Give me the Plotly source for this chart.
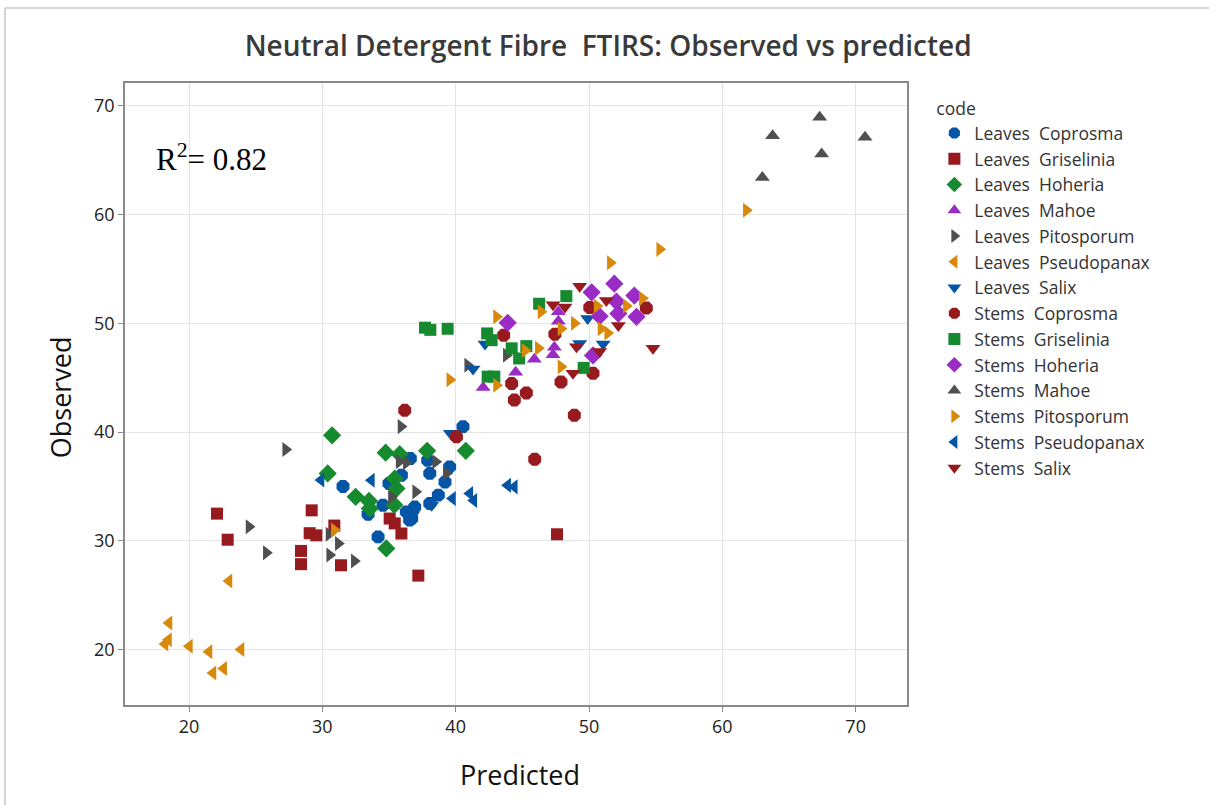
import plotly.graph_objects as go

# ---- data (Predicted, Observed) ----
leaves_coprosma_x = [31.55, 34.18, 33.43, 34.55, 35.0, 35.93, 36.6, 37.9, 38.06, 39.55, 39.2, 38.7, 36.3, 36.93, 36.55, 38.06, 40.55, 36.8, 36.7]
leaves_coprosma_y = [35.0, 30.36, 32.45, 33.27, 35.27, 36.03, 37.57, 37.4, 36.2, 36.8, 35.4, 34.2, 32.66, 33.1, 31.9, 33.43, 40.5, 32.8, 32.05]

leaves_griselinia_x = [22.1, 22.9, 28.4, 28.4, 29.2, 29.05, 29.55, 30.9, 31.4, 35.05, 35.43, 35.93, 37.2, 47.6]
leaves_griselinia_y = [32.5, 30.1, 29.07, 27.85, 32.8, 30.7, 30.5, 31.4, 27.75, 32.05, 31.6, 30.67, 26.8, 30.6]

leaves_hoheria_x = [30.73, 30.4, 34.75, 35.8, 37.86, 40.76, 35.43, 35.56, 32.5, 33.5, 33.56, 35.4, 34.8]
leaves_hoheria_y = [39.7, 36.2, 38.1, 37.97, 38.27, 38.27, 35.73, 34.8, 34.04, 33.67, 32.97, 33.3, 29.3]

leaves_mahoe_x = [47.7, 47.7, 47.4, 47.3, 45.9, 44.5, 42.06]
leaves_mahoe_y = [51.06, 50.2, 47.8, 47.1, 46.7, 45.5, 44.1]

leaves_pitosporum_x = [27.25, 24.5, 25.8, 30.55, 30.5, 31.2, 32.4, 35.76, 36.3, 38.5, 37.0, 35.18, 35.9, 40.9, 43.8, 39.3]
leaves_pitosporum_y = [38.4, 31.3, 28.9, 28.7, 30.6, 29.75, 28.15, 37.26, 37.17, 37.26, 34.5, 34.04, 40.5, 46.15, 47.07, 36.2]

leaves_pseudopanax_x = [23.0, 18.5, 18.46, 18.2, 20.03, 21.5, 23.9, 21.8, 22.6]
leaves_pseudopanax_y = [26.3, 22.45, 20.9, 20.5, 20.3, 19.8, 20.0, 17.85, 18.25]

leaves_salix_x = [42.2, 49.9, 49.3, 51.06, 41.3, 38.2, 39.6]
leaves_salix_y = [48.1, 50.45, 48.15, 48.1, 45.8, 33.27, 39.9]

stems_coprosma_x = [36.18, 40.06, 43.6, 47.44, 50.06, 54.3, 50.3, 47.9, 44.2, 44.4, 45.3, 48.9, 45.93]
stems_coprosma_y = [42.0, 39.56, 48.9, 49.0, 51.45, 51.4, 45.4, 44.6, 44.47, 42.95, 43.6, 41.55, 37.5]

stems_griselinia_x = [48.3, 46.26, 37.7, 38.1, 39.4, 42.36, 42.7, 44.2, 45.3, 44.76, 49.6, 42.4, 42.9]
stems_griselinia_y = [52.5, 51.8, 49.6, 49.4, 49.5, 49.07, 48.45, 47.7, 47.9, 46.77, 45.9, 45.1, 45.1]

stems_hoheria_x = [51.9, 50.2, 53.4, 52.06, 50.8, 53.56, 52.2, 50.3, 43.9]
stems_hoheria_y = [53.65, 52.85, 52.55, 52.0, 50.65, 50.6, 50.9, 47.05, 50.05]

stems_mahoe_x = [67.3, 63.77, 70.7, 67.45, 63.0]
stems_mahoe_y = [68.94, 67.25, 67.1, 65.57, 63.4]

stems_pitosporum_x = [55.3, 51.6, 61.8, 52.8, 54.0, 50.9, 51.4, 48.9, 50.6, 46.4, 43.06, 46.2, 45.2, 47.9, 47.9, 43.06, 39.56, 30.9]
stems_pitosporum_y = [56.8, 55.57, 60.4, 51.6, 52.3, 49.5, 49.1, 50.0, 51.6, 51.06, 50.6, 47.7, 47.5, 46.0, 49.5, 44.3, 44.8, 31.0]

stems_pseudopanax_x = [29.9, 33.68, 39.76, 41.06, 41.36, 43.9, 44.4]
stems_pseudopanax_y = [35.6, 35.57, 33.9, 34.35, 33.7, 35.1, 34.96]

stems_salix_x = [49.3, 54.8, 51.3, 52.2, 49.06, 50.8, 48.8, 47.3, 48.2]
stems_salix_y = [53.4, 47.7, 52.1, 49.8, 47.84, 47.4, 45.4, 51.7, 51.5]

x_ticks = [20, 30, 40, 50, 60, 70]
y_ticks = [20, 30, 40, 50, 60, 70]

# ---- styles ----
BLUE = "#0455A6"
RED = "#971A1E"
GREEN = "#168A2E"
PURPLE = "#9A2BC4"
GRAY = "#4F4F4F"
ORANGE = "#D8890A"

series = [
    ("Leaves  Coprosma", leaves_coprosma_x, leaves_coprosma_y, BLUE, "octagon", 14),
    ("Leaves  Griselinia", leaves_griselinia_x, leaves_griselinia_y, RED, "square", 12),
    ("Leaves  Hoheria", leaves_hoheria_x, leaves_hoheria_y, GREEN, "diamond", 14),
    ("Leaves  Mahoe", leaves_mahoe_x, leaves_mahoe_y, PURPLE, "triangle-up", 13),
    ("Leaves  Pitosporum", leaves_pitosporum_x, leaves_pitosporum_y, GRAY, "triangle-right", 13),
    ("Leaves  Pseudopanax", leaves_pseudopanax_x, leaves_pseudopanax_y, ORANGE, "triangle-left", 13),
    ("Leaves  Salix", leaves_salix_x, leaves_salix_y, BLUE, "triangle-down", 13),
    ("Stems  Coprosma", stems_coprosma_x, stems_coprosma_y, RED, "octagon", 14),
    ("Stems  Griselinia", stems_griselinia_x, stems_griselinia_y, GREEN, "square", 12),
    ("Stems  Hoheria", stems_hoheria_x, stems_hoheria_y, PURPLE, "diamond", 14),
    ("Stems  Mahoe", stems_mahoe_x, stems_mahoe_y, GRAY, "triangle-up", 13),
    ("Stems  Pitosporum", stems_pitosporum_x, stems_pitosporum_y, ORANGE, "triangle-right", 13),
    ("Stems  Pseudopanax", stems_pseudopanax_x, stems_pseudopanax_y, BLUE, "triangle-left", 13),
    ("Stems  Salix", stems_salix_x, stems_salix_y, RED, "triangle-down", 13),
]

fig = go.Figure()
for name, xs, ys, color, sym, size in series:
    fig.add_trace(go.Scatter(
        x=xs, y=ys, mode="markers", name=name,
        marker=dict(color=color, symbol=sym, size=size, line=dict(width=0)),
    ))

FONT = "Open Sans"
axis_common = dict(
    showgrid=True, gridcolor="#e4e4e4", gridwidth=1,
    showline=True, linecolor="#8a8a8a", linewidth=1.5, mirror=True,
    ticks="outside", ticklen=5, tickcolor="#8a8a8a",
    tickfont=dict(family=FONT, size=18, color="#222222"),
    zeroline=False,
)

fig.update_layout(
    width=1209, height=805,
    paper_bgcolor="white", plot_bgcolor="white",
    margin=dict(l=125, r=302, t=83, b=100),
    title=dict(
        text="Neutral Detergent Fibre  FTIRS: Observed vs predicted",
        x=0.503, xanchor="center", y=0.942, yanchor="middle",
        font=dict(family=FONT, size=28, color="#3a3a3a", weight=600),
    ),
    xaxis=dict(range=[15.2, 73.85], tickvals=x_ticks, **axis_common),
    yaxis=dict(range=[14.9, 72.1], tickvals=y_ticks, **axis_common),
    legend=dict(
        title=dict(text="code", font=dict(family=FONT, size=17.5, color="#333333")),
        font=dict(family=FONT, size=17.5, color="#333333"),
        x=1.035, xanchor="left", y=0.985, yanchor="top",
        tracegroupgap=0, itemsizing="constant",
        bgcolor="rgba(0,0,0,0)",
    ),
    showlegend=True,
)

# axis titles and R² label
fig.add_annotation(text="Predicted", xref="paper", yref="paper", x=0.505, y=-0.1125,
                   xanchor="center", yanchor="middle", showarrow=False,
                   font=dict(family=FONT, size=27, color="#111111"))
fig.add_annotation(text="Observed", xref="paper", yref="paper", x=-0.083, y=0.495,
                   xanchor="center", yanchor="middle", showarrow=False, textangle=-90,
                   font=dict(family=FONT, size=27, color="#111111"))
fig.add_annotation(text="R<sup>2</sup>= 0.82", xref="paper", yref="paper", x=0.037, y=0.88,
                   xanchor="left", yanchor="middle", showarrow=False,
                   font=dict(family="Liberation Serif", size=31, color="#000000"))

# outer window border (top and left edges)
fig.add_shape(type="line", xref="paper", yref="paper",
              x0=(5 - 125) / 782, x1=(1209 - 125) / 782, y0=(705 - 8) / 622, y1=(705 - 8) / 622,
              line=dict(color="#d4d4d4", width=2))
fig.add_shape(type="line", xref="paper", yref="paper",
              x0=(5 - 125) / 782, x1=(5 - 125) / 782, y0=(705 - 8) / 622, y1=(705 - 810) / 622,
              line=dict(color="#d4d4d4", width=2))

fig.write_html("out.html")
